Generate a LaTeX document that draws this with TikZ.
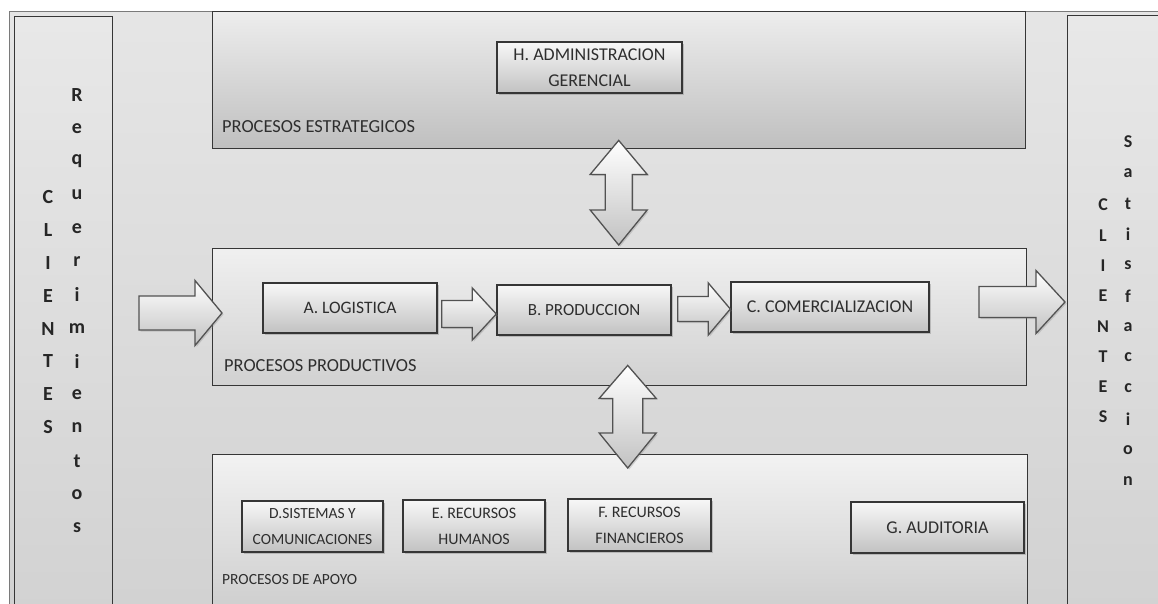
\documentclass[tikz,border=0pt]{standalone}
\usepackage{fontspec}
\setmainfont{Carlito}
\usetikzlibrary{calc,shadows}
\definecolor{txt}{HTML}{2E2E2E}
\definecolor{edge}{HTML}{363636}
\definecolor{frameline}{HTML}{7A7A7A}
\newcommand{\hblock}[5]{%
  \draw[blockarrow] let \p1=#1, \p2=#2 in
    (\x1,\y2+#3pt) -- (\x2-#5pt,\y2+#3pt) -- (\x2-#5pt,\y2+#4pt) -- (\x2,\y2)
    -- (\x2-#5pt,\y2-#4pt) -- (\x2-#5pt,\y2-#3pt) -- (\x1,\y2-#3pt) -- cycle;}
\newcommand{\vdblock}[6]{%
  \draw[blockarrow] let \p1=#1, \p2=#2 in
    (\x1,\y1) -- (\x1+#4pt,\y1-#5pt) -- (\x1+#3pt,\y1-#5pt) -- (\x1+#3pt,\y2+#6pt)
    -- (\x1+#4pt,\y2+#6pt) -- (\x1,\y2) -- (\x1-#4pt,\y2+#6pt) -- (\x1-#3pt,\y2+#6pt)
    -- (\x1-#3pt,\y1-#5pt) -- (\x1-#4pt,\y1-#5pt) -- cycle;}
\begin{document}
\begin{tikzpicture}[x=1pt,y=-1pt,
  area/.style={draw=edge, line width=1.4pt, inner sep=0pt, anchor=north west},
  panel/.style={draw=edge, line width=1.4pt, inner sep=0pt, anchor=north west,
    top color=black!9, bottom color=black!18},
  ibox/.style={draw=edge, line width=1.4pt, inner sep=0pt, align=center, text=txt,
    top color=white!97!black, bottom color=black!24,
    drop shadow={opacity=0.4, shadow xshift=2pt, shadow yshift=-2pt}},
  lbl/.style={anchor=west, inner sep=0pt, text=txt, font=\fontsize{18.4}{22}\selectfont},
  vl/.style={inner sep=0pt, text=black!85, font=\bfseries\fontsize{20}{24}\selectfont},
  vr/.style={inner sep=0pt, text=black!85, font=\bfseries\fontsize{18}{22}\selectfont},
  blockarrow/.style={draw=black!68, line width=1.3pt, line join=miter,
    top color=white, bottom color=black!24,
    drop shadow={opacity=0.3, shadow xshift=1.5pt, shadow yshift=-1.5pt}}]
\useasboundingbox (0,0) rectangle (1158,603);
\clip (0,0) rectangle (1158,603);
\fill[white] (0,0) rectangle (1158,603);
% outer frame
\node[draw=frameline, line width=1.4pt, inner sep=0pt, anchor=north west,
  top color=black!10, bottom color=black!18,
  minimum width=1170pt, minimum height=620pt] (frame) at (9,10.5) {};
% side panels
\node[panel, minimum width=98pt, minimum height=620pt] (lpanel) at (14,16) {};
\node[panel, minimum width=110pt, minimum height=620pt] (rpanel) at (1067,15) {};
% process areas
\node[area, top color=black!7, bottom color=black!25,
  minimum width=813pt, minimum height=137pt] (stra) at (212,11) {};
\node[area, top color=black!6, bottom color=black!18,
  minimum width=814pt, minimum height=137pt] (prod) at (212,248) {};
\node[area, top color=black!5, bottom color=black!21,
  minimum width=815pt, minimum height=175pt] (apoyo) at (212,454) {};
\node[lbl] (lstra) at (222,127) {PROCESOS ESTRATEGICOS};
\node[lbl] (lprod) at (224,366) {PROCESOS PRODUCTIVOS};
\node[lbl, font=\fontsize{15.5}{20}\selectfont] (lapoyo) at (222,580) {PROCESOS DE APOYO};
% double arrows
\vdblock{($(stra.south)+(-0.5,-9)$)}{($(prod.north)+(0,-3)$)}{13.5}{28.5}{34}{35}
\vdblock{($(prod.south)+(8,-21)$)}{($(apoyo.north)+(8,14)$)}{15}{28.5}{33}{35}
% inner boxes
\node[ibox, font=\fontsize{18}{26.5}\selectfont, minimum width=185pt, minimum height=51pt]
  (H) at (589.5,67.5) {H. ADMINISTRACION\\GERENCIAL};
\node[ibox, font=\fontsize{17.5}{22}\selectfont, minimum width=174pt, minimum height=50pt]
  (A) at (350,308) {A. LOGISTICA};
\node[ibox, font=\fontsize{17}{22}\selectfont, minimum width=174pt, minimum height=50pt]
  (B) at (584,310) {B. PRODUCCION};
\node[ibox, font=\fontsize{18}{22}\selectfont, minimum width=198pt, minimum height=50pt]
  (C) at (830,307) {C. COMERCIALIZACION};
\node[ibox, font=\fontsize{15.5}{26}\selectfont, minimum width=141pt, minimum height=51pt]
  (D) at (312.5,526.5) {D.SISTEMAS Y\\COMUNICACIONES};
\node[ibox, font=\fontsize{16}{26}\selectfont, minimum width=142pt, minimum height=52pt]
  (E) at (474,526) {E. RECURSOS\\HUMANOS};
\node[ibox, font=\fontsize{16}{26}\selectfont, minimum width=143pt, minimum height=52pt]
  (F) at (639.5,525) {F. RECURSOS\\FINANCIEROS};
\node[ibox, font=\fontsize{18}{22}\selectfont, minimum width=173pt, minimum height=51pt]
  (G) at (937.5,527.5) {G. AUDITORIA};
% horizontal block arrows
\coordinate (inS) at (139,313);
\coordinate (inT) at (222,313);
\coordinate (outS) at (979,302);
\coordinate (outT) at (1065,302);
\hblock{(inS)}{(inT)}{17}{32.5}{27}
\hblock{($(A.east)+(4,0)$)}{($(B.west)+(0,4)$)}{13.5}{26}{24}
\hblock{($(B.east)+(6,0)$)}{($(C.west)+(0,2)$)}{12.5}{26}{22}
\hblock{(outS)}{(outT)}{15.5}{31.5}{29}
% vertical texts
\foreach \c [count=\i] in {R,e,q,u,e,r,i,m,i,e,n,t,o,s}
  \node[vl] (req\i) at (77,{95+33.3*(\i-1)}) {\c};
\foreach \c [count=\i] in {C,L,I,E,N,T,E,S}
  \node[vl] (cl\i) at (48,{197+32.9*(\i-1)}) {\c};
\foreach \c [count=\i] in {C,L,I,E,N,T,E,S}
  \node[vr] (cr\i) at (1103,{205+30.3*(\i-1)}) {\c};
\foreach \c [count=\i] in {S,a,t,i,s,f,a,c,c,i,o,n}
  \node[vr] (sat\i) at (1128,{142+30.8*(\i-1)}) {\c};
\end{tikzpicture}
\end{document}
